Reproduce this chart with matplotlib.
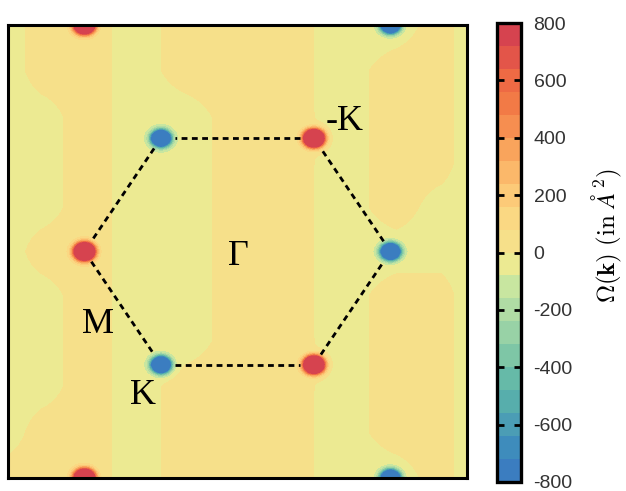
import numpy as np
import matplotlib
matplotlib.use("Agg")
import matplotlib.pyplot as plt
from matplotlib.colors import ListedColormap, BoundaryNorm

# ---- data -------------------------------------------------------------
# K / K' points (units of |K|) and sign of the Berry-curvature peak
k_x = [-1.0, 0.5, 0.5, 1.0, -0.5, -0.5, -1.0, 1.0, -1.0, 1.0]
k_y = [0.0, 0.866, -0.866, 0.0, 0.866, -0.866, 1.732, 1.732, -1.732, -1.732]
k_sign = [1, 1, 1, -1, -1, -1, 1, -1, 1, -1]
peak_amp = 3000.0      # Omega at peak centre (A^2)
peak_sigma = 0.039     # peak width

# coarse background (sign of the small residual curvature)
bg_x = [-1.49, -1.28, -0.99, -0.66, -0.33, 0.0, 0.32, 0.68, 1.04, 1.33, 1.5]
bg_y = [1.72, 1.38, 1.03, 0.69, 0.34, 0.0, -0.34, -0.69, -1.03, -1.38, -1.72]
bg_val = [
    [-40, 40, 40, -40, 40, 40, 40, -40, -40, 40, -40],
    [-40, 40, 40, -40, 40, 40, 40, -40, 40, 40, -40],
    [-40, -40, 40, -40, -40, 40, 40, -40, 40, 40, -40],
    [-40, -40, 40, -40, -40, 40, 40, -40, 40, 40, -40],
    [-40, -40, 40, -40, -40, 40, 40, -40, 40, -40, -40],
    [-40, 40, 40, -40, -40, 40, 40, -40, -40, -40, -40],
    [-40, -40, 40, -40, -40, 40, 40, -40, 40, 40, -40],
    [-40, -40, 40, -40, -40, 40, 40, -40, 40, 40, -40],
    [-40, -40, 40, -40, 40, 40, 40, -40, 40, 40, -40],
    [-40, 40, 40, -40, 40, 40, 40, -40, 40, 40, -40],
    [40, 40, 40, -40, 40, 40, 40, -40, -40, 40, -40],
]

cbar_ticks = [-800, -600, -400, -200, 0, 200, 400, 600, 800]
cbar_ticklabels = ["-800", "-600", "-400", "-200", "0", "200", "400", "600", "800"]

labels = ["-K", "Γ", "M", "K"]
label_x = [0.70, 0.005, -0.915, -0.615]
label_y = [0.995, -0.04, -0.555, -1.10]

# ---- field ------------------------------------------------------------
xs = np.linspace(-1.5, 1.5, 700)
ys = np.linspace(-1.732, 1.732, 800)
X, Y = np.meshgrid(xs, ys)

Z = np.zeros_like(X)
for px, py, s in zip(k_x, k_y, k_sign):
    r2 = (X - px) ** 2 + (Y - py) ** 2
    Z += s * peak_amp * np.exp(-r2 / (2 * peak_sigma ** 2))

bgv = np.array(bg_val, dtype=float)[::-1]
bgy = np.array(bg_y)[::-1]
tmp = np.array([np.interp(xs, bg_x, row) for row in bgv])
bg = np.array([np.interp(ys, bgy, tmp[:, j]) for j in range(len(xs))]).T
Z += bg
Z = np.clip(Z, -799, 799)

# ---- colours ----------------------------------------------------------
band_colors = [
    "#3b7dc0", "#3e8cbc", "#4b9db5", "#57aeac", "#66baa8",
    "#7ec6a6", "#98d2a6", "#b0dca4", "#c8e6a0", "#ecea92",
    "#f6e08a", "#fad883", "#fcca78", "#fbb86a", "#f9a45c",
    "#f68e50", "#f27a46", "#ee6a44", "#e35549", "#d6434f",
]
levels = np.arange(-800, 801, 80)
cmap = ListedColormap(band_colors)
norm = BoundaryNorm(levels, cmap.N)

plt.rcParams["mathtext.fontset"] = "cm"

fig = plt.figure(figsize=(6.26, 4.91), dpi=100)
ax = fig.add_axes([8 / 626, 1 - 478 / 491, 459 / 626, 453 / 491])
cs = ax.contourf(X, Y, Z, levels=levels, cmap=cmap, norm=norm)
ax.set_xlim(-1.5, 1.5)
ax.set_ylim(-1.732, 1.732)
ax.set_xticks([])
ax.set_yticks([])
for sp in ax.spines.values():
    sp.set_linewidth(2.2)

# hexagonal Brillouin zone (dashed)
ang = np.deg2rad(np.arange(0, 361, 60))
hx, hy = np.cos(ang), np.sin(ang)
shrink = 0.09
for i in range(6):
    x0, y0, x1, y1 = hx[i], hy[i], hx[i + 1], hy[i + 1]
    dx, dy = x1 - x0, y1 - y0
    ax.plot([x0 + shrink * dx, x1 - shrink * dx], [y0 + shrink * dy, y1 - shrink * dy],
            color="black", lw=2.0, linestyle=(0, (2.1, 1.6)))

for t, lx, ly in zip(labels, label_x, label_y):
    ax.text(lx, ly, t, family="Liberation Serif", fontsize=26,
            ha="center", va="center", color="black")

# colour bar
cax = fig.add_axes([497 / 626, 1 - 482 / 491, 24 / 626, 459 / 491])
cb = fig.colorbar(cs, cax=cax, ticks=cbar_ticks)
cb.set_ticklabels(cbar_ticklabels)
cb.outline.set_linewidth(2.4)
cax.minorticks_off()
cax.tick_params(axis="y", which="major", direction="in", length=5, width=2,
                left=True, right=True, labelsize=14, labelcolor="#333333", pad=9)
for lab in cax.get_yticklabels():
    lab.set_family("Liberation Sans")
fig.text(0.970, 0.52, r"$\Omega(\mathbf{k})\ (\mathrm{in}\ \AA^2)$", rotation=90,
         ha="center", va="center", fontsize=18)

fig.savefig("out.png", dpi=100)
